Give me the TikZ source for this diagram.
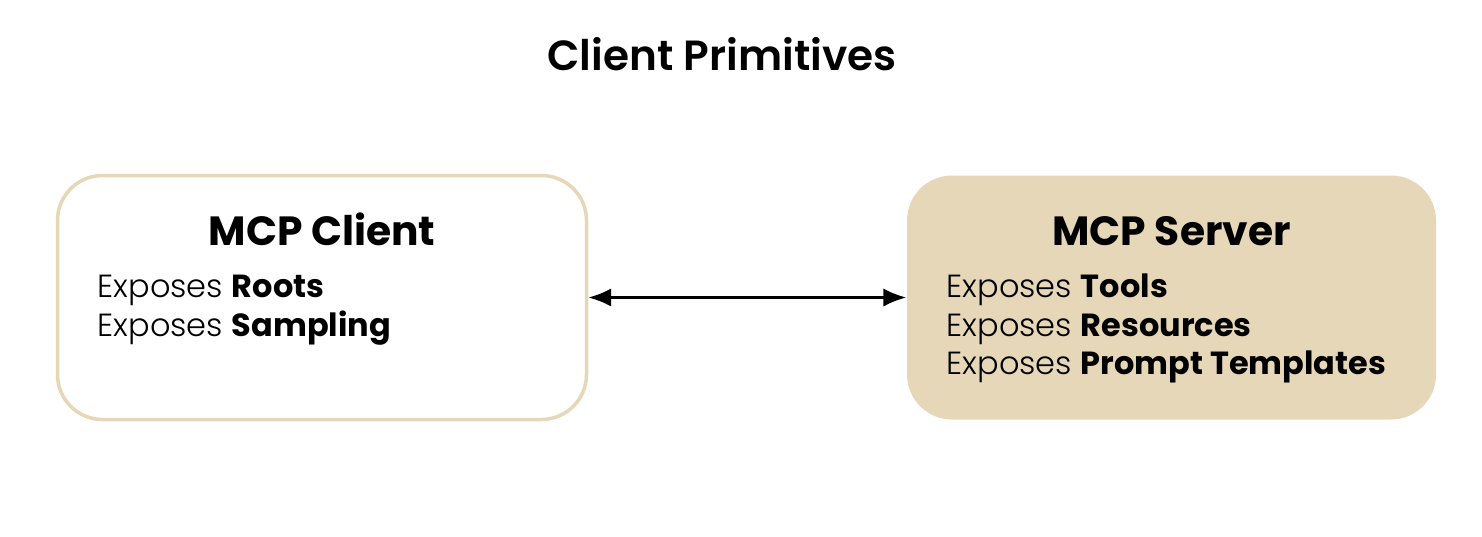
\documentclass[tikz,border=0pt]{standalone}
\usepackage{fontspec}
\setmainfont{Poppins}[UprightFont={* Light},BoldFont={* Bold}]
\newfontfamily\headfont{Poppins SemiBold}
\usetikzlibrary{arrows.meta}
\definecolor{sand}{RGB}{229,215,183}
\tikzset{
  primbox/.style={rounded corners=0.45cm, minimum width=5.29cm, minimum height=2.44cm},
  boxtitle/.style={anchor=base, font=\bfseries\fontsize{11.6}{14}\selectfont},
  boxline/.style={anchor=base west, inner sep=0pt, font=\fontsize{9.1}{11}\selectfont},
}
\begin{document}
\begin{tikzpicture}
	\useasboundingbox (0,0) rectangle (14.82,5.36);
	\node[anchor=base, font=\headfont\fontsize{12}{14}\selectfont] (heading) at (7.22,4.66) {Client Primitives};

	% client side
	\node[primbox, draw=sand, line width=0.035cm, fill=white] (client) at (3.22,2.385) {};
	\node[boxtitle] (clienttitle) at (3.22,2.91) {MCP Client};
	\node[boxline] (roots) at (0.97,2.39) {Exposes \textbf{Roots}};
	\node[boxline] (sampling) at (0.97,2.00) {Exposes \textbf{Sampling}};

	% server side
	\node[primbox, fill=sand] (server) at (11.715,2.385) {};
	\node[boxtitle] (servertitle) at (11.715,2.91) {MCP Server};
	\node[boxline] (tools) at (9.46,2.39) {Exposes \textbf{Tools}};
	\node[boxline] (resources) at (9.46,2.00) {Exposes \textbf{Resources}};
	\node[boxline] (prompts) at (9.46,1.62) {Exposes \textbf{Prompt Templates}};

	\draw[{Latex[length=6.5pt,width=5.2pt]}-{Latex[length=6.5pt,width=5.2pt]}, line width=0.8pt] (client.east) -- (server.west);
\end{tikzpicture}
\end{document}
